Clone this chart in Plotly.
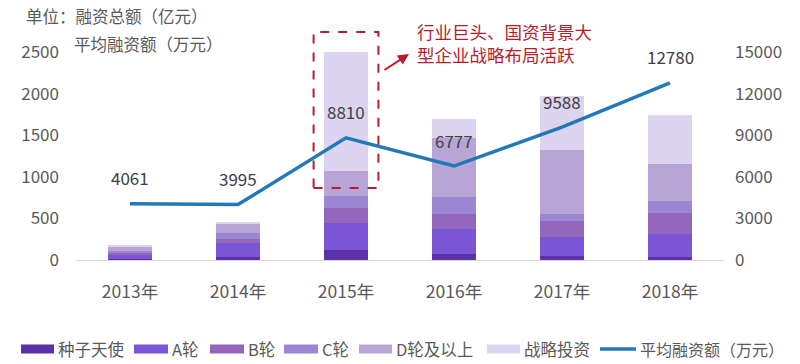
import plotly.graph_objects as go

years = ["2013年", "2014年", "2015年", "2016年", "2017年", "2018年"]
seed = [8, 40, 120, 72, 48, 40]
round_a = [55, 160, 328, 297, 233, 269]
round_b = [20, 48, 172, 185, 189, 253]
round_c = [25, 72, 148, 201, 84, 149]
round_d = [60, 120, 304, 711, 771, 442]
strategic = [2, 20, 1428, 229, 650, 594]
avg_amount = [4061, 3995, 8810, 6777, 9588, 12780]

series_names = ["种子天使", "A轮", "B轮", "C轮", "D轮及以上", "战略投资"]
line_name = "平均融资额（万元）"
series_vals = [seed, round_a, round_b, round_c, round_d, strategic]
colors = ["#5A31A8", "#7A55D5", "#9467BD", "#9B86D4", "#B8A5D6", "#DDD4F1"]
LINE_COLOR = "#2279B5"

FONT = "Noto Sans CJK SC"
GRAY = "#595959"
RED = "#B81C2C"

# plot area in pixels
L, R, T, B = 76, 76, 52, 104
W, H = 800 - L - R, 364 - T - B


def px(x):
    return (x - L) / W


def py(y):
    return (364 - B - y) / H


fig = go.Figure()
for name, vals, c in zip(series_names, series_vals, colors):
    fig.add_trace(go.Bar(x=years, y=vals, name=name, marker=dict(color=c, line=dict(width=0)),
                         yaxis="y", showlegend=False))

fig.add_trace(go.Scatter(x=years, y=avg_amount, name=line_name, mode="lines",
                         line=dict(color=LINE_COLOR, width=3.5), yaxis="y2", showlegend=False))

for yr, v in zip(years, avg_amount):
    fig.add_annotation(x=yr, y=v, yref="y2", text=str(v), showarrow=False, yshift=26,
                       font=dict(family=FONT, size=17, color="#404040"))

# highlight box around 2015
fig.add_shape(type="rect", xref="x", yref="paper", x0=1.7, x1=2.3, y0=py(188), y1=py(32),
              line=dict(color=RED, width=2, dash="dash"))
fig.add_annotation(xref="paper", yref="paper", x=px(409), y=py(54),
                   ax=-26, ay=17, axref="pixel", ayref="pixel",
                   showarrow=True, arrowhead=2, arrowsize=1.1, arrowwidth=2, arrowcolor=RED, text="")
fig.add_annotation(xref="paper", yref="paper", x=px(415), y=py(42.5),
                   xanchor="left", yanchor="middle", showarrow=False, align="left",
                   text="行业巨头、国资背景大<br>型企业战略布局活跃",
                   font=dict(family=FONT, size=17.5, color=RED))

fig.add_annotation(xref="paper", yref="paper", x=px(24), y=py(16),
                   xanchor="left", yanchor="middle", showarrow=False,
                   text="单位：融资总额（亿元）", font=dict(family=FONT, size=16.5, color=GRAY))
fig.add_annotation(xref="paper", yref="paper", x=px(72), y=py(44),
                   xanchor="left", yanchor="middle", showarrow=False,
                   text="平均融资额（万元）", font=dict(family=FONT, size=16.5, color=GRAY))

# manual legend (single row, as in the reference)
LEG_Y = 349
swatch_x = [(21, 54), (134, 168), (210, 244), (284, 318), (359, 392), (487, 520)]
for (x0, x1), c, name in zip(swatch_x, colors, series_names):
    fig.add_shape(type="rect", xref="paper", yref="paper", x0=px(x0), x1=px(x1),
                  y0=py(LEG_Y + 4.5), y1=py(LEG_Y - 4.5), fillcolor=c, line=dict(width=0))
    fig.add_annotation(xref="paper", yref="paper", x=px(x1 + 2), y=py(LEG_Y), xanchor="left",
                       yanchor="middle", showarrow=False, text=name,
                       font=dict(family=FONT, size=16.5, color=GRAY))
fig.add_shape(type="line", xref="paper", yref="paper", x0=px(600), x1=px(636),
              y0=py(LEG_Y), y1=py(LEG_Y), line=dict(color=LINE_COLOR, width=3.5))
fig.add_annotation(xref="paper", yref="paper", x=px(638), y=py(LEG_Y), xanchor="left",
                   yanchor="middle", showarrow=False, text=line_name,
                   font=dict(family=FONT, size=16, color=GRAY))

fig.update_layout(
    width=800, height=364,
    margin=dict(l=L, r=R, t=T, b=B, autoexpand=False),
    barmode="stack", bargap=0.59,
    plot_bgcolor="white", paper_bgcolor="white",
    font=dict(family=FONT, size=17, color=GRAY),
    showlegend=False,
    xaxis=dict(showgrid=False, showline=True, linecolor="#D9D9D9", linewidth=1,
               ticks="", ticklabelstandoff=16, tickfont=dict(size=17.5, color=GRAY)),
    yaxis=dict(range=[0, 2500], tickvals=[0, 500, 1000, 1500, 2000, 2500], showgrid=False,
               zeroline=False, ticks="", tickfont=dict(size=17, color=GRAY), ticklabelstandoff=16,
               tickformat="d"),
    yaxis2=dict(range=[0, 15000], tickvals=[0, 3000, 6000, 9000, 12000, 15000], overlaying="y",
                side="right", showgrid=False, zeroline=False, ticks="", tickformat="d",
                tickfont=dict(size=17, color=GRAY), ticklabelstandoff=10),
)

fig.write_html("out.html", config={"displayModeBar": False},
               post_script="document.body.style.margin='0';")
